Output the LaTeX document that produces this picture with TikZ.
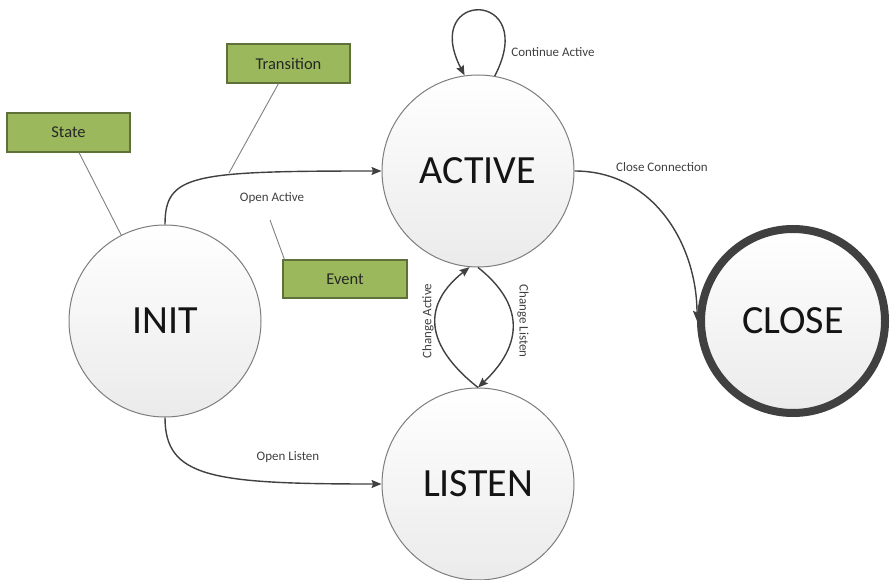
\documentclass[tikz,border=0pt]{standalone}
\usepackage{fontspec}
\setmainfont{Carlito}
\usetikzlibrary{arrows.meta,calc}
\definecolor{boxgreen}{RGB}{155,185,92}
\definecolor{boxedge}{RGB}{95,112,58}
\definecolor{arrowgray}{RGB}{64,64,64}
\definecolor{circedge}{RGB}{125,125,125}
\definecolor{labelgray}{RGB}{64,64,64}
\begin{document}
\begin{tikzpicture}[x=1pt,y=1pt,
  statenode/.style={circle, draw=circedge, line width=1pt, minimum size=192pt, inner sep=0pt,
    top color=white, bottom color=black!8, font=\fontsize{40}{48}\selectfont, text=black!92},
  closenode/.style={statenode, draw=arrowgray, line width=8pt, minimum size=184pt},
  notebox/.style={rectangle, draw=boxedge, line width=1.1pt, fill=boxgreen, minimum width=123pt,
    minimum height=39pt, inner sep=0pt, font=\fontsize{16.5}{20}\selectfont, text=black!85},
  arr/.style={draw=arrowgray, line width=1.4pt, -{Stealth[length=10pt,width=8pt,inset=1.5pt]}},
  elabel/.style={font=\fontsize{13}{15}\selectfont, text=labelgray, inner sep=0pt},
  callout/.style={draw=black!50, line width=0.9pt}]
\useasboundingbox (0,0) rectangle (890,579);

% states
\node[statenode] (init) at (165,258) {INIT};
\node[statenode] (active) at (478,408) {ACTIVE};
\node[statenode] (listen) at (478,95) {LISTEN};
\node[closenode] (close) at (793,258) {CLOSE};

% note boxes
\node[notebox] (state) at (68.5,446.5) {State};
\node[notebox] (transition) at (288.5,515.5) {Transition};
\node[notebox, minimum width=124pt, minimum height=38pt] (event) at (345,300) {Event};

% callout lines
\coordinate (trtip) at (229,406);
\coordinate (evtip) at (270,359);
\draw[callout] ($(state.south)+(10.5,0)$) -- (init.117);
\draw[callout] ($(transition.south)+(-10,0)$) -- (trtip);
\draw[callout] (evtip) -- ($(event.north west)+(2,0)$);

% transitions
\draw[arr] (init.north) .. controls +(0,50) and +(-190,0) .. (active.west);
\draw[arr] (init.south) .. controls +(0,-60) and +(-170,0) .. (listen.west);
\draw[arr] (active.80) .. controls (540,590) and (420,590) .. (active.98);
\draw[arr] (listen.north) .. controls (423,235) and (423,275) .. (active.265);
\draw[arr] (active.south) .. controls (524,275) and (524,235) .. (listen.north);
\draw[arr] (active.east) .. controls +(80,0) and +(0,75) .. (close.west);

% labels
\node[elabel] (lopenactive) at (272,381) {Open Active};
\node[elabel] (lopenlisten) at (288,122) {Open Listen};
\node[elabel] (lcontinue) at (553,527) {Continue Active};
\node[elabel] (lcloseconn) at (662,412) {Close Connection};
\node[elabel, rotate=90] (lchangeactive) at (428,258) {Change Active};
\node[elabel, rotate=-90] (lchangelisten) at (523,258) {Change Listen};
\end{tikzpicture}
\end{document}
